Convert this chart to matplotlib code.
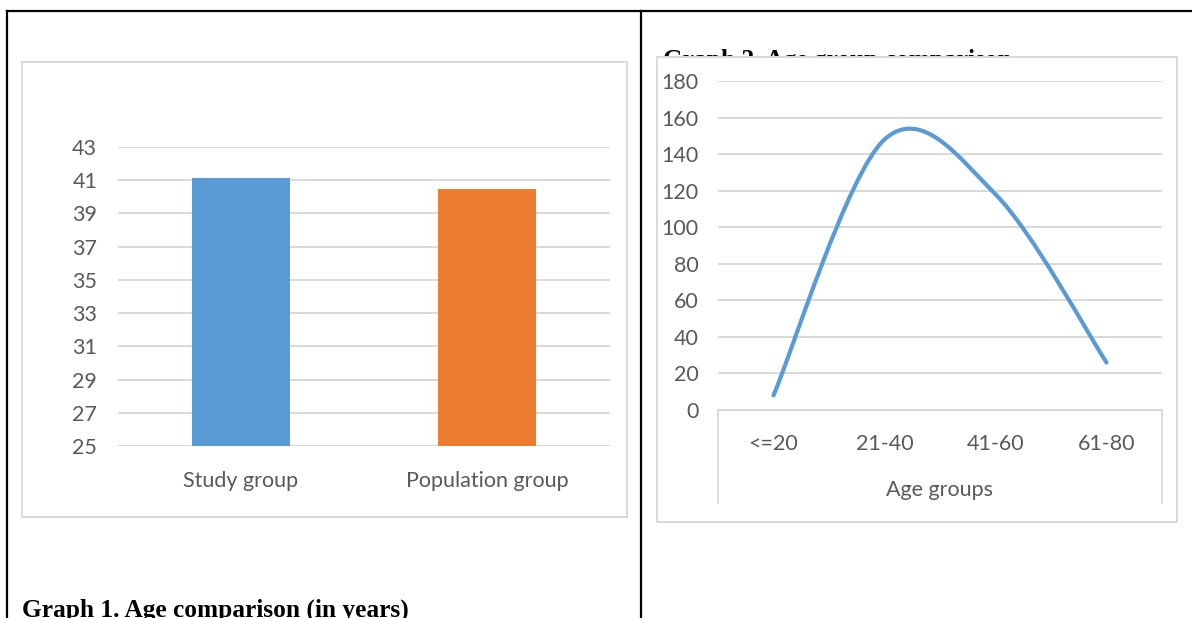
import numpy as np
import matplotlib
matplotlib.use("Agg")
import matplotlib.pyplot as plt
from matplotlib.path import Path
from matplotlib.patches import PathPatch, Rectangle
from matplotlib.lines import Line2D

W, H = 1192, 618

# graph 1: mean age
groups = ["Study group", "Population group"]
mean_age = [41.15, 40.5]
bar_colors = ["#5B9BD5", "#ED7D31"]
age_ticks = list(range(25, 44, 2))

# graph 2: age group counts
age_groups = ["<=20", "21-40", "41-60", "61-80"]
group_counts = [8, 148, 118, 26]
count_ticks = list(range(0, 181, 20))

GRID = "#D9D9D9"
TEXT = "#595959"
FONT = "Lato"
FSIZE = 15.5


def fx(px):
    return px / W


def fy(py):
    return 1 - py / H


def rect(x0, y0, x1, y1):
    # pixel box (top-left origin) -> figure fraction [l, b, w, h]
    return [fx(x0), fy(y1), fx(x1) - fx(x0), fy(y0) - fy(y1)]


def smooth_path(xs, ys):
    # bezier smoothing through the points, like a spreadsheet "smoothed line"
    pts = np.column_stack([xs, ys]).astype(float)
    n = len(pts)
    verts = [pts[0]]
    codes = [Path.MOVETO]
    for i in range(n - 1):
        prev = pts[max(i - 1, 0)]
        nxt = pts[min(i + 2, n - 1)]
        c1 = pts[i] + (pts[i + 1] - prev) / 6
        c2 = pts[i + 1] - (nxt - pts[i]) / 6
        verts += [c1, c2, pts[i + 1]]
        codes += [Path.CURVE4] * 3
    return Path(verts, codes)


def style_axes(ax):
    for s in ax.spines.values():
        s.set_visible(False)
    ax.set_facecolor("none")
    ax.yaxis.grid(True, color=GRID, lw=1.4)
    ax.set_axisbelow(True)
    ax.tick_params(length=0, colors=TEXT, labelsize=FSIZE)
    for lab in ax.get_xticklabels() + ax.get_yticklabels():
        lab.set_fontfamily(FONT)


fig = plt.figure(figsize=(W / 100, H / 100), dpi=100)

# table borders
for x0, y0, x1, y1 in [(7, 11, 1192, 11), (7, 11, 7, 618), (641, 11, 641, 618)]:
    fig.add_artist(Line2D([fx(x0), fx(x1)], [fy(y0), fy(y1)], color="black", lw=1.6))

# captions
fig.text(fx(22), fy(617), "Graph 1. Age comparison (in years)", family="Liberation Serif",
         weight="bold", size=18.3, zorder=0.5)
fig.text(fx(663), fy(67), "Graph 2. Age group comparison", family="Liberation Serif",
         weight="bold", size=18.3, zorder=0.5)

# chart frames
for x0, y0, x1, y1 in [(22, 62, 627, 517), (657, 57, 1177, 522)]:
    fig.add_artist(Rectangle((fx(x0), fy(y1)), fx(x1) - fx(x0), fy(y0) - fy(y1),
                             transform=fig.transFigure, facecolor="white",
                             edgecolor=GRID, lw=1.4, zorder=1))

# graph 1
ax1 = fig.add_axes(rect(118, 147, 610, 446), zorder=2)
x1 = np.arange(len(groups))
ax1.bar(x1, [v - age_ticks[0] for v in mean_age], bottom=age_ticks[0], width=0.4,
        color=bar_colors, zorder=3)
ax1.set_xlim(-0.5, len(groups) - 0.5)
ax1.set_ylim(age_ticks[0], age_ticks[-1])
ax1.set_yticks(age_ticks)
ax1.set_xticks(x1)
ax1.set_xticklabels(groups)
style_axes(ax1)
ax1.tick_params(axis="y", pad=15)
ax1.tick_params(axis="x", pad=18)

# graph 2
ax2 = fig.add_axes(rect(718, 81, 1162, 410), zorder=2)
x2 = np.arange(len(age_groups))
ax2.add_patch(PathPatch(smooth_path(x2, group_counts), facecolor="none",
                        edgecolor="#5B9BD5", lw=3, capstyle="round", zorder=3))
ax2.set_xlim(-0.5, len(age_groups) - 0.5)
ax2.set_ylim(count_ticks[0], count_ticks[-1])
ax2.set_yticks(count_ticks)
ax2.set_xticks(x2)
ax2.set_xticklabels(age_groups)
style_axes(ax2)
ax2.tick_params(axis="y", pad=14)
ax2.tick_params(axis="x", pad=17)
ax2.spines["bottom"].set_visible(True)
ax2.spines["bottom"].set_color(GRID)
ax2.spines["bottom"].set_linewidth(1.4)
for xa in (0, 1):
    ax2.plot([xa, xa], [0, -0.283], transform=ax2.transAxes, color=GRID, lw=1.4,
             clip_on=False)
ax2.set_xlabel("Age groups", color=TEXT, size=FSIZE, family=FONT, labelpad=19)

fig.savefig("out.png", dpi=100)
